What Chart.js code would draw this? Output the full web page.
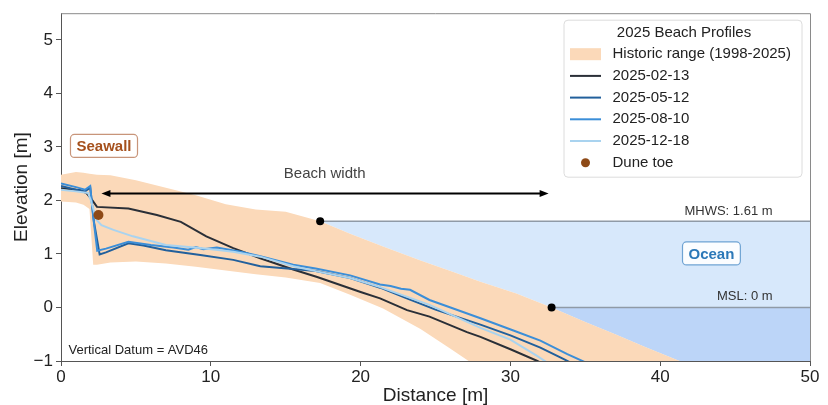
<!DOCTYPE html>
<html lang="en">
<head>
<meta charset="UTF-8">
<title>2025 Beach Profiles</title>
<script src="https://cdn.jsdelivr.net/npm/chart.js"></script>
<style>
  html, body { margin: 0; padding: 0; background: #fff; }
  .chart-container { width: 828px; height: 405px; }
</style>
</head>
<body>
<div class="chart-container"><canvas id="profileChart" width="828" height="405"></canvas></div>
<script>
const FONT = "'Liberation Sans', Arial, Helvetica, sans-serif";

// historic envelope (1998-2025), distance [m] / elevation [m]
const envDistance = [0, 1, 1.5, 1.9, 2.15, 2.4, 3.3, 5, 7, 9, 11, 13, 15, 17.3, 19.3, 21.5, 24, 26, 28, 30.4, 32.75, 35, 37, 39, 41.3, 45, 50];
const envHigh     = [2.48, 2.53, 2.52, 2.5, 2.49, 2.48, 2.47, 2.38, 2.24, 2.1, 1.93, 1.83, 1.79, 1.61, 1.38, 1.14, 0.88, 0.68, 0.48, 0.26, 0, -0.27, -0.5, -0.74, -1.0, -1.45, -2.0];
const envLow      = [1.98, 1.96, 1.92, 1.84, 0.8, 0.8, 0.84, 0.86, 0.82, 0.76, 0.69, 0.62, 0.56, 0.46, 0.24, -0.02, -0.4, -0.77, -1.15, -1.5, -1.8, -2.1, -2.3, -2.5, -2.7, -3.0, -3.4];

// 2025 surveys
const dist0213 = [0, 1.3, 1.7, 2.0, 2.4, 4.5, 6.4, 8.0, 9.7, 11.5, 13.3, 15.5, 17.1, 20, 21.3, 23.1, 24.6, 27.1, 28, 30, 31.8, 32.5];
const elev0213 = [2.23, 2.19, 2.14, 2.04, 1.88, 1.85, 1.73, 1.6, 1.33, 1.11, 0.92, 0.71, 0.57, 0.29, 0.17, -0.05, -0.17, -0.46, -0.55, -0.78, -1.0, -1.1];

const dist0512 = [0, 1.0, 1.6, 1.95, 2.2, 2.58, 3, 4.5, 5.5, 7, 9.3, 11.5, 13.3, 15.5, 17, 19.3, 21.3, 23, 25, 28, 30, 32, 33.6, 34.5];
const elev0512 = [2.27, 2.2, 2.17, 2.24, 1.6, 0.99, 1.03, 1.2, 1.16, 1.07, 0.98, 0.89, 0.77, 0.72, 0.68, 0.55, 0.37, 0.18, -0.04, -0.32, -0.52, -0.75, -0.97, -1.1];

const dist0810 = [0, 1.0, 1.6, 1.95, 2.15, 2.42, 3, 4.5, 6, 7.5, 8.5, 9, 9.5, 10.4, 12, 13.3, 15.5, 17, 19.3, 21.3, 22, 22.7, 23.3, 24.6, 26, 28, 30.2, 32, 33.8, 35.2];
const elev0810 = [2.32, 2.25, 2.2, 2.27, 1.7, 1.06, 1.1, 1.23, 1.17, 1.12, 1.08, 1.13, 1.09, 1.12, 1.04, 0.96, 0.8, 0.73, 0.6, 0.43, 0.4, 0.35, 0.33, 0.14, 0.0, -0.2, -0.43, -0.62, -0.87, -1.05];

const dist1218 = [0, 1.0, 1.8, 2.0, 2.36, 2.7, 3.5, 4.8, 7, 9.3, 11.5, 13.3, 15.5, 17, 19.3, 21.3, 24.6, 28, 30, 31.75, 32.4];
const elev1218 = [2.2, 2.17, 2.14, 2.0, 1.64, 1.54, 1.45, 1.33, 1.17, 1.11, 1.04, 0.95, 0.77, 0.68, 0.55, 0.38, 0.05, -0.38, -0.6, -0.9, -1.02];

const duneToeDistance = [2.5];
const duneToeElevation = [1.73];

// water levels (AVD46) and where they meet the upper envelope
const MHWS = 1.61, MHWS_X = 17.3;
const MSL = 0, MSL_X = 32.75;

const xTicks = [0, 10, 20, 30, 40, 50];
const yTicks = [-1, 0, 1, 2, 3, 4, 5];

const pts = (xs, ys) => xs.map((x, i) => ({ x, y: ys[i] }));
const envPoints = pts(envDistance, envHigh);

const datasets = [
    { // 0 - ocean below MHWS
        data: envPoints.filter(p => p.x >= MHWS_X),
        borderWidth: 0, pointRadius: 0,
        backgroundColor: '#d7e8fb', fill: { value: MHWS }, order: 10
    },
    { // 1 - ocean below MSL
        data: envPoints.filter(p => p.x >= MSL_X),
        borderWidth: 0, pointRadius: 0,
        backgroundColor: '#bcd5f8', fill: { value: MSL }, order: 9
    },
    { // 2 - historic range top
        label: 'Historic range (1998-2025)', legendType: 'patch',
        data: envPoints,
        borderWidth: 0, pointRadius: 0,
        backgroundColor: '#fbd9b9', fill: 3, order: 8
    },
    { // 3 - historic range bottom
        data: pts(envDistance, envLow),
        borderWidth: 0, pointRadius: 0, fill: false, order: 8
    },
    { // 4 - MHWS level
        data: [{ x: MHWS_X, y: MHWS }, { x: 50, y: MHWS }],
        borderColor: '#8f9aa6', borderWidth: 1.5, pointRadius: 0, fill: false, order: 6
    },
    { // 5 - MSL level
        data: [{ x: MSL_X, y: MSL }, { x: 50, y: MSL }],
        borderColor: '#8f9aa6', borderWidth: 1.5, pointRadius: 0, fill: false, order: 6
    },
    {
        label: '2025-02-13', legendType: 'line',
        data: pts(dist0213, elev0213),
        borderColor: '#2a2f37', borderWidth: 2, pointRadius: 0, fill: false, order: 4
    },
    {
        label: '2025-05-12', legendType: 'line',
        data: pts(dist0512, elev0512),
        borderColor: '#22609c', borderWidth: 2, pointRadius: 0, fill: false, order: 3
    },
    {
        label: '2025-08-10', legendType: 'line',
        data: pts(dist0810, elev0810),
        borderColor: '#3b8ed8', borderWidth: 2, pointRadius: 0, fill: false, order: 2
    },
    {
        label: '2025-12-18', legendType: 'line',
        data: pts(dist1218, elev1218),
        borderColor: '#a9d3ef', borderWidth: 2, pointRadius: 0, fill: false, order: 1
    },
    { // level markers
        data: [{ x: MHWS_X, y: MHWS }, { x: MSL_X, y: MSL }],
        showLine: false, pointRadius: 4, pointBackgroundColor: '#000', pointBorderWidth: 0, order: 0
    },
    {
        label: 'Dune toe', legendType: 'dot',
        data: pts(duneToeDistance, duneToeElevation),
        showLine: false, pointRadius: 5, pointBackgroundColor: '#8e4a17', backgroundColor: '#8e4a17',
        pointBorderWidth: 0, order: 0
    }
];

const textLabels = [
    { text: 'Beach width', x: 17.6, y: 2.49, align: 'center', font: '15px ' + FONT, color: '#444' },
    { text: `MHWS: ${MHWS.toFixed(2)} m`, x: 47.5, y: MHWS + 0.19, align: 'right', font: '13px ' + FONT, color: '#333' },
    { text: `MSL: ${MSL} m`, x: 47.5, y: MSL + 0.21, align: 'right', font: '13px ' + FONT, color: '#333' },
    { text: 'Vertical Datum = AVD46', x: 0.5, y: -0.8, align: 'left', font: '13px ' + FONT, color: '#222' }
];
const boxLabels = [
    { text: 'Seawall', x: 2.87, y: 3.02, color: '#a5501c', border: '#c8957a' },
    { text: 'Ocean', x: 43.42, y: 1.01, color: '#2b78b8', border: '#6fa3d3' }
];
const BEACH_ARROW_Y = 2.13;

function roundBox(ctx, x, y, w, h, r) {
    ctx.beginPath();
    ctx.moveTo(x + r, y);
    ctx.arcTo(x + w, y, x + w, y + h, r);
    ctx.arcTo(x + w, y + h, x, y + h, r);
    ctx.arcTo(x, y + h, x, y, r);
    ctx.arcTo(x, y, x + w, y, r);
    ctx.closePath();
}

function arrowHead(ctx, tipX, tipY, dir) {
    ctx.beginPath();
    ctx.moveTo(tipX, tipY);
    ctx.lineTo(tipX + dir * 9, tipY - 3.5);
    ctx.lineTo(tipX + dir * 9, tipY + 3.5);
    ctx.closePath();
    ctx.fill();
}

const annotations = {
    id: 'beachAnnotations',
    afterDatasetsDraw(chart) {
        const { ctx, chartArea, scales: { x, y } } = chart;
        ctx.save();

        // spines on top / right
        ctx.strokeStyle = '#8a8a8a';
        ctx.lineWidth = 1;
        ctx.beginPath();
        ctx.moveTo(chartArea.left, chartArea.top + 0.5);
        ctx.lineTo(chartArea.right + 0.5, chartArea.top + 0.5);
        ctx.lineTo(chartArea.right + 0.5, chartArea.bottom);
        ctx.stroke();

        // beach width arrow, dune toe to MSL
        const ay = y.getPixelForValue(BEACH_ARROW_Y);
        const ax0 = x.getPixelForValue(duneToeDistance[0]) + 3;
        const ax1 = x.getPixelForValue(MSL_X) - 3;
        ctx.strokeStyle = '#000';
        ctx.fillStyle = '#000';
        ctx.lineWidth = 2;
        ctx.beginPath();
        ctx.moveTo(ax0 + 5, ay);
        ctx.lineTo(ax1 - 5, ay);
        ctx.stroke();
        arrowHead(ctx, ax0, ay, 1);
        arrowHead(ctx, ax1, ay, -1);

        ctx.textBaseline = 'middle';
        textLabels.forEach(t => {
            ctx.font = t.font;
            ctx.fillStyle = t.color;
            ctx.textAlign = t.align;
            ctx.fillText(t.text, x.getPixelForValue(t.x), y.getPixelForValue(t.y));
        });

        ctx.font = 'bold 15px ' + FONT;
        ctx.textAlign = 'center';
        boxLabels.forEach(b => {
            const cx = x.getPixelForValue(b.x), cy = y.getPixelForValue(b.y);
            const w = ctx.measureText(b.text).width + 12, h = 23;
            roundBox(ctx, cx - w / 2, cy - h / 2, w, h, 4);
            ctx.fillStyle = 'rgba(255,255,255,0.9)';
            ctx.fill();
            ctx.strokeStyle = b.border;
            ctx.lineWidth = 1.2;
            ctx.stroke();
            ctx.fillStyle = b.color;
            ctx.fillText(b.text, cx, cy + 1);
        });
        ctx.restore();
    },
    afterDraw(chart) {
        const { ctx, chartArea } = chart;
        const items = chart.data.datasets.filter(d => d.label);
        const boxW = 238, rowH = 21.7;
        const boxH = 157;
        const left = chartArea.right - 8 - boxW, top = chartArea.top + 7;
        ctx.save();
        roundBox(ctx, left, top, boxW, boxH, 4);
        ctx.fillStyle = 'rgba(255,255,255,0.85)';
        ctx.fill();
        ctx.strokeStyle = '#dcdcdc';
        ctx.lineWidth = 1;
        ctx.stroke();

        ctx.font = '15px ' + FONT;
        ctx.fillStyle = '#222';
        ctx.textBaseline = 'middle';
        ctx.textAlign = 'center';
        ctx.fillText('2025 Beach Profiles', left + 120, top + 12.5);

        ctx.textAlign = 'left';
        items.forEach((d, i) => {
            const cy = top + 34 + i * rowH;
            const hx = left + 6, hw = 31;
            if (d.legendType === 'patch') {
                ctx.fillStyle = d.backgroundColor;
                ctx.fillRect(hx, cy - 6, hw, 12);
            } else if (d.legendType === 'line') {
                ctx.strokeStyle = d.borderColor;
                ctx.lineWidth = 2;
                ctx.beginPath();
                ctx.moveTo(hx, cy);
                ctx.lineTo(hx + hw, cy);
                ctx.stroke();
            } else {
                ctx.fillStyle = d.pointBackgroundColor;
                ctx.beginPath();
                ctx.arc(hx + hw / 2, cy, 4.5, 0, Math.PI * 2);
                ctx.fill();
            }
            ctx.fillStyle = '#222';
            ctx.fillText(d.label, left + 48.5, cy);
        });
        ctx.restore();
    }
};

new Chart(document.getElementById('profileChart'), {
    type: 'line',
    data: { datasets },
    options: {
        responsive: false,
        animation: false,
        events: [],
        layout: { padding: { top: 12, right: 18, left: 0, bottom: 0 } },
        elements: { line: { tension: 0 }, point: { radius: 0 } },
        plugins: { legend: { display: false }, tooltip: { enabled: false } },
        scales: {
            x: {
                type: 'linear',
                min: 0, max: 50,
                afterFit: s => { s.height = 44; },
                afterBuildTicks: s => { s.ticks = xTicks.map(v => ({ value: v })); },
                border: { color: '#555', width: 1 },
                grid: { drawOnChartArea: false, drawTicks: true, tickLength: 5, color: '#555' },
                ticks: { font: { family: FONT, size: 17 }, color: '#222', padding: 1, maxRotation: 0 },
                title: { display: true, text: 'Distance [m]', color: '#222',
                         font: { family: FONT, size: 19, lineHeight: 1 }, padding: { top: 0, bottom: 0 } }
            },
            y: {
                type: 'linear',
                min: -1, max: 5.5,
                afterFit: s => { s.width = 61; },
                afterBuildTicks: s => { s.ticks = yTicks.map(v => ({ value: v })); },
                border: { color: '#555', width: 1 },
                grid: { drawOnChartArea: false, drawTicks: true, tickLength: 5, color: '#555' },
                ticks: { font: { family: FONT, size: 17 }, color: '#222', padding: 3,
                         callback: v => String(v).replace('-', '\u2212') },
                title: { display: true, text: 'Elevation [m]', color: '#222',
                         font: { family: FONT, size: 19, lineHeight: 1 }, padding: { top: 12, bottom: 0 } }
            }
        }
    },
    plugins: [annotations]
});
</script>
</body>
</html>
